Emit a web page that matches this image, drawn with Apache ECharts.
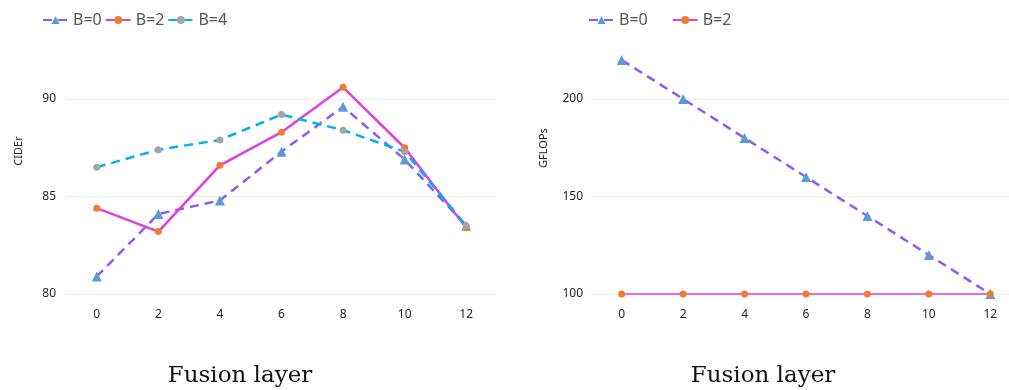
<!DOCTYPE html>
<html>
<head>
<meta charset="utf-8">
<script src="https://cdn.jsdelivr.net/npm/echarts@6/dist/echarts.min.js"></script>
<style>html,body{margin:0;padding:0;background:#fff}#c{width:1009px;height:390px}</style>
</head>
<body>
<div id="c"></div>
<script>
const layers = ['0', '2', '4', '6', '8', '10', '12'];
const ciderB0 = [80.9, 84.1, 84.8, 87.3, 89.6, 86.9, 83.5];
const ciderB2 = [84.4, 83.2, 86.6, 88.3, 90.6, 87.5, 83.4];
const ciderB4 = [86.5, 87.4, 87.9, 89.2, 88.4, 87.3, 83.5];
const flopsB0 = [220, 200, 180, 160, 140, 120, 100];
const flopsB2 = [100, 100, 100, 100, 100, 100, 100];
const ciderTicks = {min: 80, max: 90, interval: 5};
const flopsTicks = {min: 100, max: 200, interval: 50};

const FONT = '"Noto Sans", "Open Sans", sans-serif';
const chart = echarts.init(document.getElementById('c'), null, {renderer: 'canvas'});

const purple = '#8a5cf5', blue = '#5b9bd5', magenta = '#e03fe0', orange = '#ed7d31', cyan = '#00b0f0', gray = '#a5a5a5';

function xAxis(gi) {
  return {
    type: 'category', gridIndex: gi, data: layers, boundaryGap: true,
    axisLine: {show: false}, axisTick: {show: false},
    axisLabel: {color: '#222', fontSize: 12, fontFamily: FONT, margin: 15},
    splitLine: {show: false}
  };
}
function yAxis(gi, t, margin) {
  return {
    type: 'value', gridIndex: gi, min: t.min, max: t.max, interval: t.interval,
    axisLine: {show: false}, axisTick: {show: false},
    axisLabel: {color: '#222', fontSize: 12, fontFamily: FONT, margin: margin},
    splitLine: {show: true, lineStyle: {color: '#eeeeee', width: 1}}
  };
}
function dashedTri(name, data, xi) {
  return {
    name, type: 'line', xAxisIndex: xi, yAxisIndex: xi, data, clip: false,
    symbol: 'triangle', symbolSize: 10,
    lineStyle: {color: purple, width: 2.5, type: [9, 6]},
    itemStyle: {color: blue}
  };
}
const legendText = {color: '#555', fontSize: 16, fontFamily: FONT};

chart.setOption({
  animation: false,
  backgroundColor: '#fff',
  textStyle: {fontFamily: FONT},
  legend: [
    {left: 37, top: 7, itemWidth: 25, itemHeight: 10, itemGap: 3,
     textStyle: legendText, formatter: n => n.trim(),
     data: ['B=0', 'B=2', 'B=4']},
    {left: 583, top: 7, itemWidth: 25, itemHeight: 10, itemGap: 24,
     textStyle: legendText, formatter: n => n.trim(),
     data: ['B=0 ', 'B=2 ']}
  ],
  grid: [
    {left: 66, top: 99, width: 431, height: 195, outerBoundsMode: 'none'},
    {left: 591, top: 99, width: 430, height: 195, outerBoundsMode: 'none'}
  ],
  xAxis: [xAxis(0), xAxis(1)],
  yAxis: [yAxis(0, ciderTicks, 10), yAxis(1, flopsTicks, 8)],
  graphic: [
    {type: 'text', x: 19, y: 151, rotation: Math.PI / 2,
     style: {text: 'CIDEr', fill: '#222', font: '11px ' + FONT, textAlign: 'center', textVerticalAlign: 'middle'}},
    {type: 'text', x: 544, y: 148, rotation: Math.PI / 2,
     style: {text: 'GFLOPs', fill: '#222', font: '11px ' + FONT, textAlign: 'center', textVerticalAlign: 'middle'}},
    {type: 'text', x: 240, y: 376,
     style: {text: 'Fusion layer', fill: '#111', font: '23px "DejaVu Serif", "Liberation Serif", serif', textAlign: 'center', textVerticalAlign: 'middle'}},
    {type: 'text', x: 763, y: 376,
     style: {text: 'Fusion layer', fill: '#111', font: '23px "DejaVu Serif", "Liberation Serif", serif', textAlign: 'center', textVerticalAlign: 'middle'}}
  ],
  series: [
    dashedTri('B=0', ciderB0, 0),
    {name: 'B=2', type: 'line', xAxisIndex: 0, yAxisIndex: 0, data: ciderB2, clip: false,
     symbol: 'circle', symbolSize: 7,
     lineStyle: {color: magenta, width: 2.5}, itemStyle: {color: orange}},
    {name: 'B=4', type: 'line', xAxisIndex: 0, yAxisIndex: 0, data: ciderB4, clip: false,
     symbol: 'circle', symbolSize: 7,
     lineStyle: {color: cyan, width: 2.5, type: [9, 6]}, itemStyle: {color: gray}},
    dashedTri('B=0 ', flopsB0, 1),
    {name: 'B=2 ', type: 'line', xAxisIndex: 1, yAxisIndex: 1, data: flopsB2, clip: false,
     symbol: 'circle', symbolSize: 7,
     lineStyle: {color: magenta, width: 1.5}, itemStyle: {color: orange}}
  ]
});
</script>
</body>
</html>
